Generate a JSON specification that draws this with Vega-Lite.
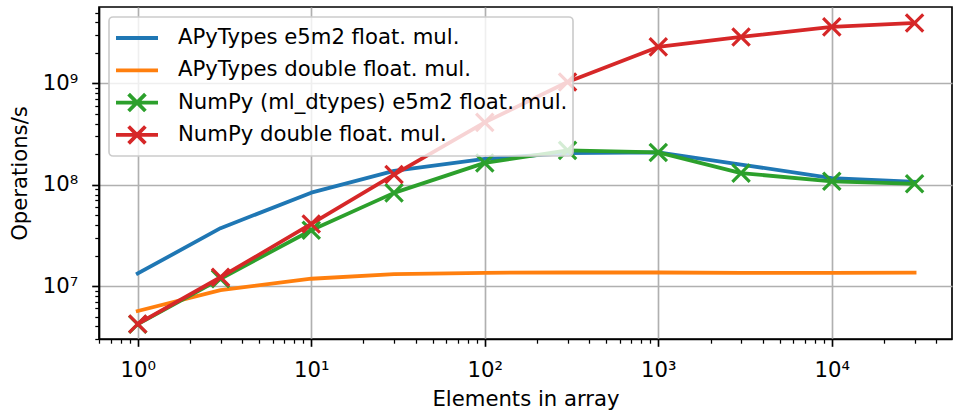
{
  "$schema": "https://vega.github.io/schema/vega-lite/v6.json",
  "width": 853,
  "height": 332,
  "autosize": {"type": "none"},
  "padding": {"left": 99, "top": 7, "right": 1, "bottom": 74},
  "background": "white",
  "datasets": {
    "d": [
      {"n": 1, "v": 1.33e7, "s": "APyTypes e5m2 float. mul."},
      {"n": 3, "v": 3.72e7, "s": "APyTypes e5m2 float. mul."},
      {"n": 10, "v": 8.34e7, "s": "APyTypes e5m2 float. mul."},
      {"n": 30, "v": 1.37e8, "s": "APyTypes e5m2 float. mul."},
      {"n": 100, "v": 1.8e8, "s": "APyTypes e5m2 float. mul."},
      {"n": 300, "v": 2.05e8, "s": "APyTypes e5m2 float. mul."},
      {"n": 1000, "v": 2.08e8, "s": "APyTypes e5m2 float. mul."},
      {"n": 3000, "v": 1.58e8, "s": "APyTypes e5m2 float. mul."},
      {"n": 10000, "v": 1.16e8, "s": "APyTypes e5m2 float. mul."},
      {"n": 30000, "v": 1.07e8, "s": "APyTypes e5m2 float. mul."},
      {"n": 1, "v": 5.66e6, "s": "APyTypes double float. mul."},
      {"n": 3, "v": 9.1e6, "s": "APyTypes double float. mul."},
      {"n": 10, "v": 1.18e7, "s": "APyTypes double float. mul."},
      {"n": 30, "v": 1.31e7, "s": "APyTypes double float. mul."},
      {"n": 100, "v": 1.35e7, "s": "APyTypes double float. mul."},
      {"n": 300, "v": 1.36e7, "s": "APyTypes double float. mul."},
      {"n": 1000, "v": 1.36e7, "s": "APyTypes double float. mul."},
      {"n": 3000, "v": 1.35e7, "s": "APyTypes double float. mul."},
      {"n": 10000, "v": 1.35e7, "s": "APyTypes double float. mul."},
      {"n": 30000, "v": 1.355e7, "s": "APyTypes double float. mul."},
      {"n": 1, "v": 4.2e6, "s": "NumPy (ml_dtypes) e5m2 float. mul."},
      {"n": 3, "v": 1.18e7, "s": "NumPy (ml_dtypes) e5m2 float. mul."},
      {"n": 10, "v": 3.55e7, "s": "NumPy (ml_dtypes) e5m2 float. mul."},
      {"n": 30, "v": 8.3e7, "s": "NumPy (ml_dtypes) e5m2 float. mul."},
      {"n": 100, "v": 1.64e8, "s": "NumPy (ml_dtypes) e5m2 float. mul."},
      {"n": 300, "v": 2.18e8, "s": "NumPy (ml_dtypes) e5m2 float. mul."},
      {"n": 1000, "v": 2.08e8, "s": "NumPy (ml_dtypes) e5m2 float. mul."},
      {"n": 3000, "v": 1.3e8, "s": "NumPy (ml_dtypes) e5m2 float. mul."},
      {"n": 10000, "v": 1.08e8, "s": "NumPy (ml_dtypes) e5m2 float. mul."},
      {"n": 30000, "v": 1.02e8, "s": "NumPy (ml_dtypes) e5m2 float. mul."},
      {"n": 1, "v": 4.22e6, "s": "NumPy double float. mul."},
      {"n": 3, "v": 1.22e7, "s": "NumPy double float. mul."},
      {"n": 10, "v": 4.1e7, "s": "NumPy double float. mul."},
      {"n": 30, "v": 1.26e8, "s": "NumPy double float. mul."},
      {"n": 100, "v": 4.12e8, "s": "NumPy double float. mul."},
      {"n": 300, "v": 1.03e9, "s": "NumPy double float. mul."},
      {"n": 1000, "v": 2.29e9, "s": "NumPy double float. mul."},
      {"n": 3000, "v": 2.87e9, "s": "NumPy double float. mul."},
      {"n": 10000, "v": 3.61e9, "s": "NumPy double float. mul."},
      {"n": 30000, "v": 3.94e9, "s": "NumPy double float. mul."}
    ]
  },
  "data": {"name": "d"},
  "encoding": {
    "x": {
      "field": "n", "type": "quantitative",
      "scale": {"type": "log", "domain": [0.598, 49300], "nice": false},
      "axis": {
        "title": "Elements in array",
        "values": [0.6,0.7,0.8,0.9,1,2,3,4,5,6,7,8,9,10,20,30,40,50,60,70,80,90,100,200,300,400,500,600,700,800,900,1000,2000,3000,4000,5000,6000,7000,8000,9000,10000,20000,30000,40000],
        "labelExpr": "abs(log(datum.value)/LN10 - round(log(datum.value)/LN10)) < 0.001 ? '10' + ['⁰','¹','²','³','⁴','⁵','⁶','⁷','⁸','⁹'][round(log(datum.value)/LN10)] : ''",
        "tickSize": {"condition": {"test": "abs(log(datum.value)/LN10 - round(log(datum.value)/LN10)) < 0.001", "value": 7.3}, "value": 4.2},
        "tickWidth": {"condition": {"test": "abs(log(datum.value)/LN10 - round(log(datum.value)/LN10)) < 0.001", "value": 1.67}, "value": 1.25},
        "gridOpacity": {"condition": {"test": "abs(log(datum.value)/LN10 - round(log(datum.value)/LN10)) < 0.001", "value": 1}, "value": 0},
        "labelBaseline": "alphabetic",
        "labelPadding": 30,
        "titlePadding": 8
      }
    },
    "y": {
      "field": "v", "type": "quantitative",
      "scale": {"type": "log", "domain": [3.0e6, 5.67e9], "nice": false},
      "axis": {
        "title": "Operations/s",
        "values": [3e6,4e6,5e6,6e6,7e6,8e6,9e6,1e7,2e7,3e7,4e7,5e7,6e7,7e7,8e7,9e7,1e8,2e8,3e8,4e8,5e8,6e8,7e8,8e8,9e8,1e9,2e9,3e9,4e9,5e9],
        "labelExpr": "abs(log(datum.value)/LN10 - round(log(datum.value)/LN10)) < 0.001 ? '10' + ['⁰','¹','²','³','⁴','⁵','⁶','⁷','⁸','⁹'][round(log(datum.value)/LN10)] : ''",
        "tickSize": {"condition": {"test": "abs(log(datum.value)/LN10 - round(log(datum.value)/LN10)) < 0.001", "value": 7.3}, "value": 4.2},
        "tickWidth": {"condition": {"test": "abs(log(datum.value)/LN10 - round(log(datum.value)/LN10)) < 0.001", "value": 1.67}, "value": 1.25},
        "gridOpacity": {"condition": {"test": "abs(log(datum.value)/LN10 - round(log(datum.value)/LN10)) < 0.001", "value": 1}, "value": 0},
        "labelPadding": 14,
        "titlePadding": 12
      }
    }
  },
  "layer": [
    {
      "transform": [{"filter": "datum.s === 'APyTypes e5m2 float. mul.'"}],
      "mark": {"type": "line", "color": "#1f77b4", "strokeWidth": 3.8, "strokeCap": "square", "strokeJoin": "round"}
    },
    {
      "transform": [{"filter": "datum.s === 'APyTypes double float. mul.'"}],
      "mark": {"type": "line", "color": "#ff7f0e", "strokeWidth": 3.8, "strokeCap": "square", "strokeJoin": "round"}
    },
    {
      "transform": [{"filter": "datum.s === 'NumPy (ml_dtypes) e5m2 float. mul.'"}],
      "mark": {"type": "line", "color": "#2ca02c", "strokeWidth": 3.8, "strokeCap": "square", "strokeJoin": "round"}
    },
    {
      "transform": [{"filter": "datum.s === 'NumPy (ml_dtypes) e5m2 float. mul.'"}],
      "mark": {"type": "point", "color": "#2ca02c", "shape": "M-1,-1L1,1M-1,1L1,-1", "size": 300, "strokeWidth": 3.2, "filled": false, "opacity": 1}
    },
    {
      "transform": [{"filter": "datum.s === 'NumPy double float. mul.'"}],
      "mark": {"type": "line", "color": "#d62728", "strokeWidth": 3.8, "strokeCap": "square", "strokeJoin": "round"}
    },
    {
      "transform": [{"filter": "datum.s === 'NumPy double float. mul.'"}],
      "mark": {"type": "point", "color": "#d62728", "shape": "M-1,-1L1,1M-1,1L1,-1", "size": 300, "strokeWidth": 3.2, "filled": false, "opacity": 1}
    },
    {
      "mark": {"type": "point", "filled": false, "opacity": 0, "strokeWidth": 3.8},
      "encoding": {
        "color": {
          "field": "s", "type": "nominal",
          "scale": {
            "domain": ["APyTypes e5m2 float. mul.", "APyTypes double float. mul.", "NumPy (ml_dtypes) e5m2 float. mul.", "NumPy double float. mul."],
            "range": ["#1f77b4", "#ff7f0e", "#2ca02c", "#d62728"]
          },
          "legend": {"title": null}
        },
        "shape": {
          "field": "s", "type": "nominal",
          "scale": {
            "domain": ["APyTypes e5m2 float. mul.", "APyTypes double float. mul.", "NumPy (ml_dtypes) e5m2 float. mul.", "NumPy double float. mul."],
            "range": ["M-1.5,0H1.5M0,-0.6L0,-0.6M0,0.6L0,0.6", "M-1.5,0H1.5M0,-0.6L0,-0.6M0,0.6L0,0.6", "M-1.5,0H1.5M-0.6,-0.6L0.6,0.6M-0.6,0.6L0.6,-0.6", "M-1.5,0H1.5M-0.6,-0.6L0.6,0.6M-0.6,0.6L0.6,-0.6"]
          },
          "legend": {"title": null}
        }
      }
    }
  ],
  "config": {
    "font": "DejaVu Sans",
    "view": {"stroke": "black", "strokeWidth": 1.67},
    "axis": {
      "labelFont": "DejaVu Sans",
      "labelFontSize": 21.2,
      "labelColor": "black",
      "titleFont": "DejaVu Sans",
      "titleFontSize": 21.2,
      "titleFontWeight": "normal",
      "titleColor": "black",
      "domainColor": "black",
      "domainWidth": 1.67,
      "tickColor": "black",
      "gridColor": "#b0b0b0",
      "gridWidth": 1.67,
      "labelOverlap": false,
      "labelFlush": false,
      "labelBound": false
    },
    "legend": {
      "orient": "top-left",
      "offset": 10,
      "padding": 5,
      "fillColor": "rgba(255,255,255,0.8)",
      "strokeColor": "#cccccc",
      "strokeWidth": 1.67,
      "cornerRadius": 4,
      "labelFont": "DejaVu Sans",
      "labelFontSize": 21.2,
      "labelColor": "black",
      "labelLimit": 800,
      "symbolSize": 784,
      "symbolStrokeWidth": 3.8,
      "symbolOpacity": 1,
      "symbolOffset": 7,
      "labelOffset": 25,
      "rowPadding": 0.3
    }
  }
}
